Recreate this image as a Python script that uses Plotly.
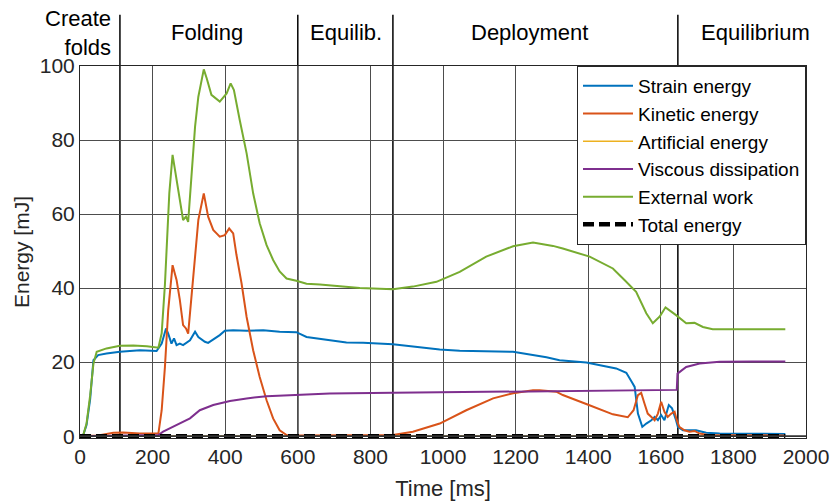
import plotly.graph_objects as go

# ---- data (time in ms, energy in mJ) ----
t_strain = [0, 9, 18, 28, 37, 50, 73, 110, 165, 211, 225, 237, 243, 252, 259, 266, 275, 284, 303, 317,
            326, 344, 353, 367, 385, 399, 422, 459, 505, 550, 596, 624, 688, 734, 780, 862, 991, 1046,
            1193, 1248, 1285, 1321, 1395, 1477, 1505, 1521, 1528, 1537, 1549, 1560, 1574, 1583, 1592,
            1601, 1610, 1622, 1631, 1642, 1647, 1661, 1697, 1725, 1762, 1943]
strain = [0, 0.3, 3.0, 10, 20.5, 21.9, 22.3, 22.8, 23.2, 23.0, 25.0, 29.1, 27.7, 25.0, 26.4, 24.6, 25.0,
          24.6, 25.9, 28.2, 26.8, 25.5, 25.2, 26.1, 27.3, 28.5, 28.6, 28.5, 28.6, 28.2, 28.1, 26.8, 25.9,
          25.3, 25.2, 24.8, 23.4, 23.1, 22.8, 21.9, 21.3, 20.5, 19.9, 18.3, 17.1, 14.5, 13.3, 6.1, 2.5,
          3.4, 4.3, 5.2, 4.3, 5.7, 4.3, 8.4, 7.5, 4.3, 2.5, 1.6, 1.6, 0.9, 0.7, 0.6]

t_kinetic = [0, 50, 92, 119, 165, 216, 225, 234, 243, 255, 266, 275, 284, 292, 298, 307, 317, 326, 341,
             353, 367, 385, 399, 411, 422, 431, 445, 459, 477, 495, 514, 532, 550, 569, 600, 862, 917,
             991, 1064, 1138, 1193, 1248, 1266, 1312, 1330, 1400, 1468, 1509, 1525, 1537, 1546, 1555,
             1564, 1574, 1583, 1592, 1601, 1610, 1619, 1629, 1638, 1644, 1651, 1665, 1679, 1693, 1707,
             1730, 1943]
kinetic = [0, 0.2, 0.9, 1.0, 0.7, 0.7, 7.0, 18.7, 34, 46.2, 42.2, 36.8, 30, 29.1, 27.7, 36.8, 48.5, 58.4,
           65.6, 59.3, 55.7, 53.9, 54.3, 56.1, 54.8, 49, 41.3, 32.2, 23.2, 16, 9.7, 4.8, 1.6, 0.3, 0.2,
           0.3, 1.2, 3.4, 7.0, 10.2, 11.6, 12.4, 12.4, 12.0, 11.1, 8.5, 5.9, 5.1, 7.0, 11.1, 11.7, 8.8,
           6.1, 5.2, 4.3, 6.1, 9.3, 6.6, 5.2, 6.1, 6.6, 4.3, 2.5, 1.6, 1.2, 1.4, 0.7, 0.3, 0.2]

t_artificial = [0, 1943]
artificial = [0, 0]

t_viscous = [0, 216, 229, 266, 303, 330, 367, 413, 459, 514, 596, 688, 862, 1193, 1633, 1644, 1646,
             1670, 1707, 1762, 1850, 1943]
viscous = [0, 0.3, 1.2, 3.0, 4.8, 7.0, 8.4, 9.5, 10.2, 10.8, 11.2, 11.5, 11.7, 12.0, 12.4, 12.5, 16.9,
           18.7, 19.6, 20.1, 20.2, 20.2]

t_external = [0, 9, 18, 28, 37, 46, 73, 110, 147, 184, 216, 225, 234, 237, 246, 255, 262, 266, 273, 284,
              292, 298, 307, 317, 326, 341, 349, 362, 385, 404, 415, 424, 440, 459, 477, 495, 514, 532,
              550, 569, 596, 624, 661, 716, 771, 826, 862, 917, 982, 1046, 1119, 1193, 1248, 1303, 1330,
              1404, 1468, 1500, 1532, 1560, 1578, 1597, 1613, 1642, 1670, 1693, 1716, 1743, 1943]
external = [0, 0.3, 3.4, 11, 19.6, 22.8, 23.7, 24.4, 24.5, 24.3, 23.9, 27.8, 41, 47.6, 65.6, 76, 72,
            68.7, 65.6, 58.4, 59.3, 57.9, 70.1, 83.6, 91.7, 99.1, 96.7, 92.2, 90.4, 92.6, 95.3, 93.5,
            85.4, 76.4, 65.6, 57.5, 51.6, 47.6, 44.5, 42.6, 42.0, 41.2, 41.0, 40.4, 40.0, 39.8, 39.7,
            40.4, 41.7, 44.4, 48.5, 51.3, 52.3, 51.4, 50.7, 48.5, 45.3, 42.2, 39.0, 33.2, 30.5, 32.3,
            34.8, 32.7, 30.5, 30.6, 29.5, 28.9, 28.9]

t_total = [0, 1943]
total = [0, 0]

phase_x = [110, 600, 862, 1647]
phase_labels = ["Create<br>folds", "Folding", "Equilib.", "Deployment", "Equilibrium"]
phase_label_x = [91, 350, 734, 1237, 1861]

x_ticks = list(range(0, 2001, 200))
y_ticks = list(range(0, 101, 20))

FONT = "Liberation Sans, Arial, Helvetica, sans-serif"

# (name, t, e, colour, dash, width, legend rank); artificial drawn first so it stays underneath
series = [
    ("Artificial energy", t_artificial, artificial, "#EDB120", "solid", 1.5, 3),
    ("Strain energy", t_strain, strain, "#0072BD", "solid", 2, 1),
    ("Kinetic energy", t_kinetic, kinetic, "#D95319", "solid", 2, 2),
    ("Viscous dissipation", t_viscous, viscous, "#7E2F8E", "solid", 2, 4),
    ("External work", t_external, external, "#77AC30", "solid", 2, 5),
    ("Total energy", t_total, total, "#000000", "11px,5px", 4.5, 6),
]

fig = go.Figure()
for name, t, e, c, d, w, rank in series:
    fig.add_trace(go.Scatter(x=t, y=e, mode="lines", name=name, legendrank=rank,
                             line=dict(color=c, width=w, dash=d)))

# phase separators
for px in phase_x:
    fig.add_shape(type="line", xref="x", yref="paper", x0=px, x1=px, y0=0, y1=1.138,
                  line=dict(color="black", width=1.5), layer="between")

# zero-level axis line drawn on top of the data (as in the original, visible in the dash gaps)
fig.add_shape(type="line", xref="paper", yref="y", x0=0, x1=1, y0=0, y1=0,
              line=dict(color="#333333", width=1.6), layer="above")

for i, (lab, lx) in enumerate(zip(phase_labels, phase_label_x)):
    fig.add_annotation(x=lx, y=1.09, xref="x", yref="paper", text=lab, showarrow=False,
                       xanchor="right" if i == 0 else "center", yanchor="middle",
                       align="right" if i == 0 else "center",
                       font=dict(family=FONT, size=22, color="black"))

fig.update_layout(
    width=836, height=502,
    margin=dict(l=80, r=30, t=66, b=64, autoexpand=False),
    paper_bgcolor="white", plot_bgcolor="white",
    font=dict(family=FONT, size=21, color="#262626"),
    showlegend=True,
    legend=dict(x=1, y=1, xanchor="right", yanchor="top", bgcolor="white",
                bordercolor="#262626", borderwidth=1, font=dict(family=FONT, size=19, color="black"),
                itemwidth=50, tracegroupgap=0),
)
fig.update_xaxes(range=[0, 2000], tickvals=x_ticks, showgrid=True, gridcolor="#4d4d4d", gridwidth=1,
                 showline=True, linecolor="#262626", linewidth=1, mirror=True, zeroline=False,
                 automargin=False, ticks="",
                 title=dict(text="Time [ms]", font=dict(size=22, color="#262626"), standoff=13),
                 tickfont=dict(size=21, color="#262626"))
fig.update_yaxes(range=[-0.5, 100], tickvals=y_ticks, showgrid=True, gridcolor="#4d4d4d", gridwidth=1,
                 showline=True, linecolor="#262626", linewidth=1, mirror=True, zeroline=False,
                 automargin=False, ticks="",
                 title=dict(text="Energy [mJ]", font=dict(size=21, color="#262626"), standoff=4),
                 tickfont=dict(size=21, color="#262626"))

fig.write_html("out.html")
